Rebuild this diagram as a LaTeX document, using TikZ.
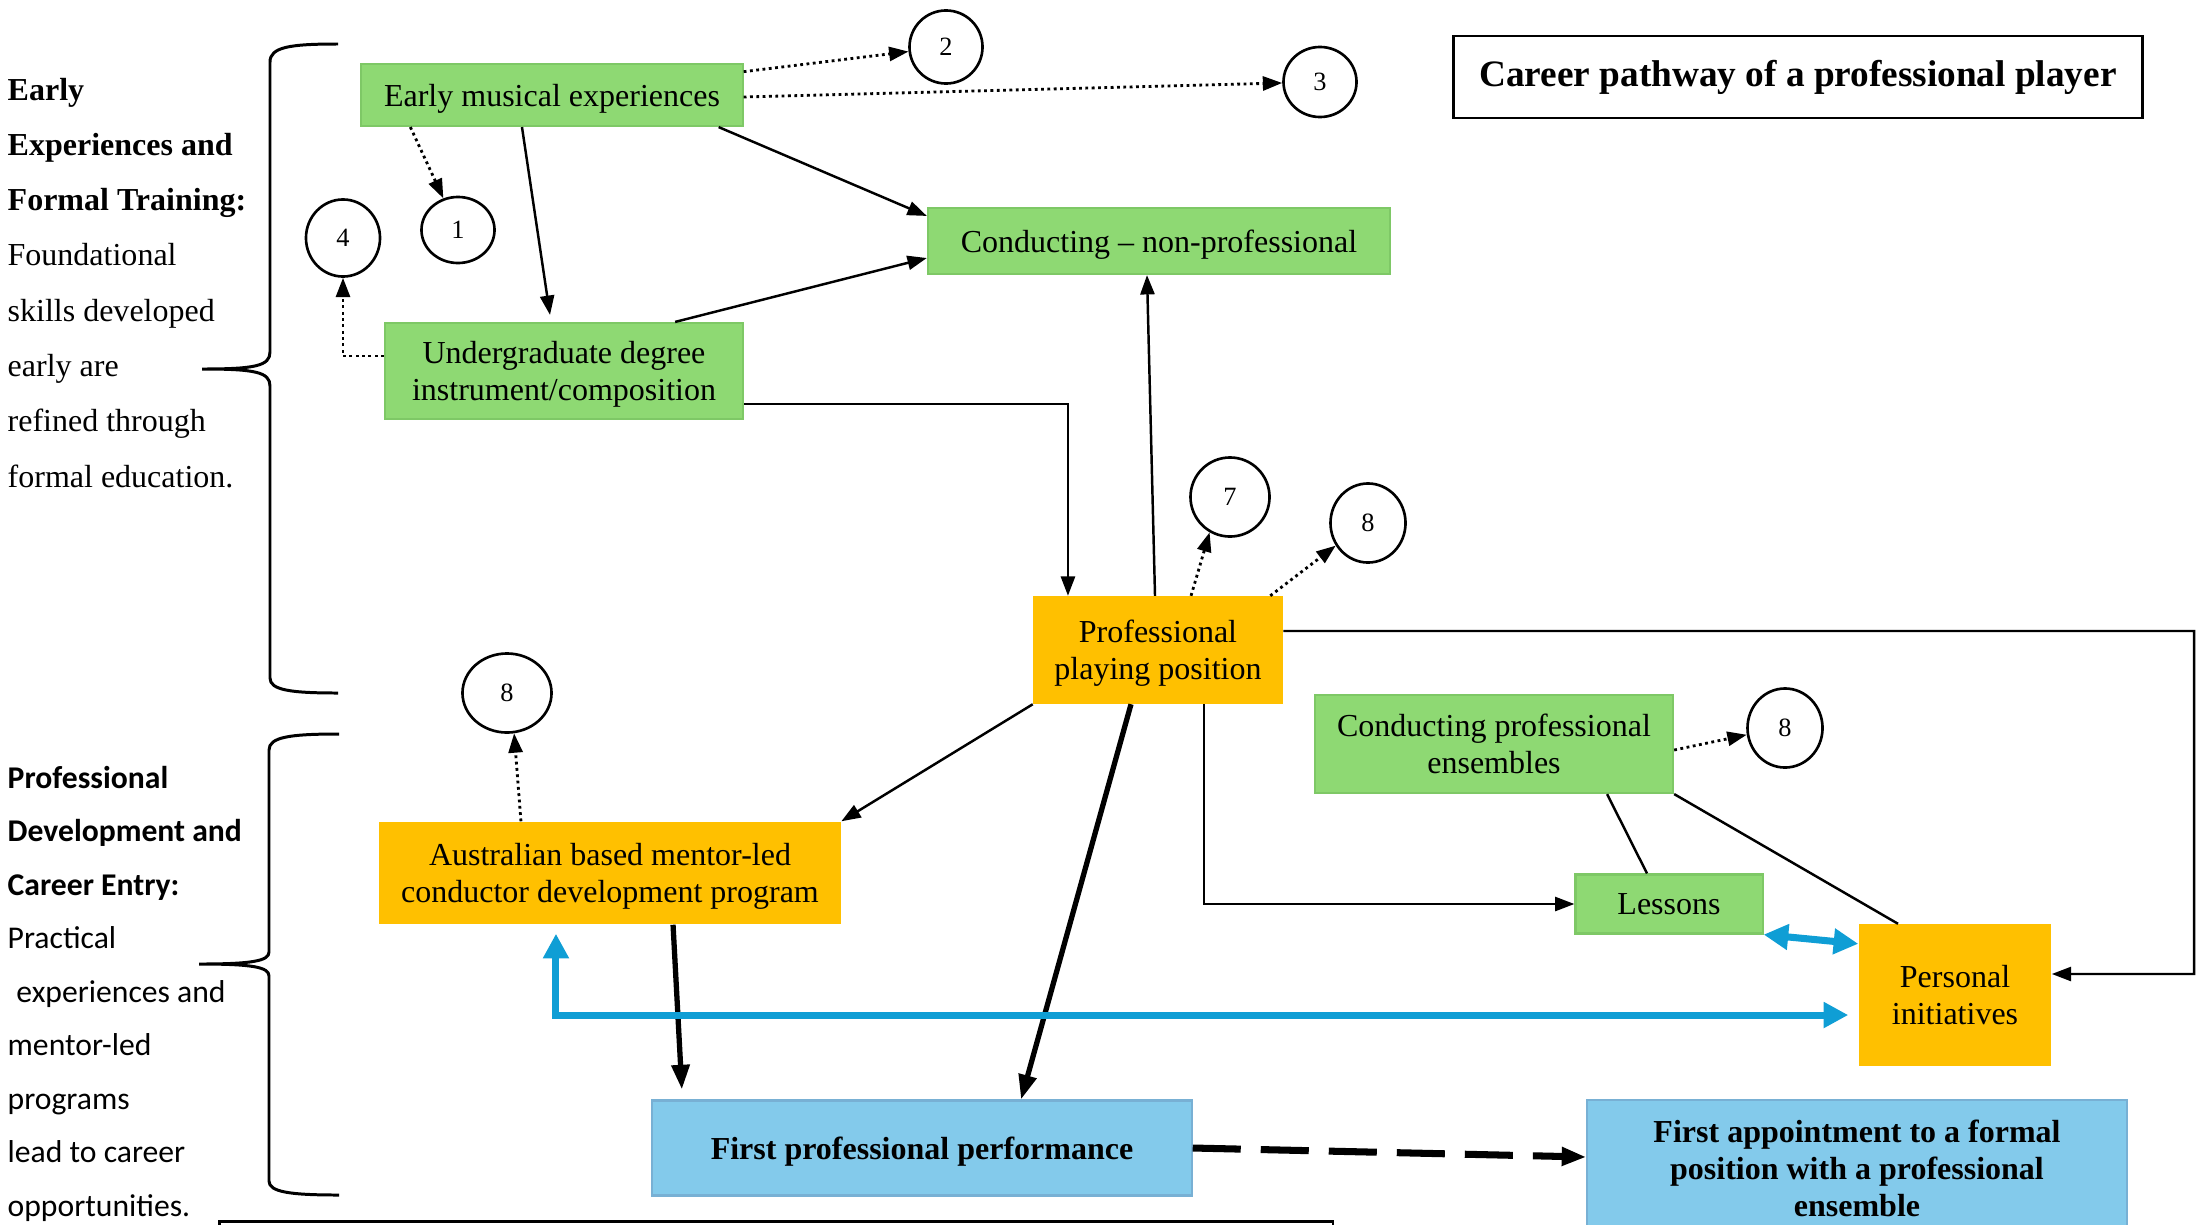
\documentclass[tikz,border=0pt]{standalone}
\usepackage{fontspec}
\setmainfont{Liberation Serif}
\newfontfamily\calibri{Carlito}
\usetikzlibrary{arrows.meta,shapes.geometric}

\definecolor{boxgreen}{RGB}{142,217,115}
\definecolor{boxgreenedge}{RGB}{126,200,102}
\definecolor{boxorange}{RGB}{255,192,0}
\definecolor{boxblue}{RGB}{131,202,235}
\definecolor{boxblueedge}{RGB}{120,176,212}
\definecolor{linkblue}{RGB}{15,158,213}

\newcommand{\boxfont}{\fontsize{9.1}{10.6}\selectfont}
\newcommand{\numfont}{\fontsize{7.5}{8}\selectfont}

\tikzset{
  stage/.style={align=center, inner sep=0pt, text depth=0pt, font=\boxfont},
  greenstage/.style={stage, fill=boxgreen, draw=boxgreenedge, line width=0.6pt},
  orangestage/.style={stage, fill=boxorange},
  bluestage/.style={stage, fill=boxblue, draw=boxblueedge, line width=0.6pt, font=\boxfont\bfseries},
  num/.style={ellipse, draw, line width=0.75pt, inner sep=0pt, minimum width=0.73cm, minimum height=0.73cm, font=\numfont},
  note/.style={->, densely dotted, line width=0.8pt},
  link/.style={->, line width=0.7pt},
  heavy/.style={-{Triangle[length=7pt,width=5pt]}, line width=1.5pt},
  bluelink/.style={{Triangle[length=7pt,width=7pt]}-{Triangle[length=7pt,width=7pt]}, draw=linkblue, line width=2pt},
  sidebrace/.style={line width=0.85pt},
  sidetext/.style={anchor=base west, inner sep=0pt, font=\fontsize{9.1}{11}\selectfont},
}

\begin{document}
\begin{tikzpicture}[x=0.01cm, y=-0.01cm, >={Triangle[length=5.5pt,width=4pt]}]
\useasboundingbox (0,0) rectangle (2201,1224);
\clip (0,0) rectangle (2201,1224);

\node[greenstage, minimum width=3.81cm, minimum height=0.62cm] (early) at (552,95) {Early musical experiences};
\node[greenstage, minimum width=4.62cm, minimum height=0.66cm] (amateur) at (1159,241) {Conducting -- non-professional};
\node[greenstage, minimum width=3.58cm, minimum height=0.96cm] (degree) at (564,371) {Undergraduate degree\\instrument/composition};
\node[orangestage, minimum width=2.49cm, minimum height=1.07cm] (playing) at (1158,650) {Professional\\playing position};
\node[greenstage, minimum width=3.58cm, minimum height=0.98cm] (ensembles) at (1494,744) {Conducting professional\\ensembles};
\node[greenstage, minimum width=1.87cm, minimum height=0.59cm] (lessons) at (1669,904) {Lessons};
\node[orangestage, minimum width=1.92cm, minimum height=1.41cm] (personal) at (1955,995) {Personal\\initiatives};
\node[orangestage, minimum width=4.61cm, minimum height=1.02cm] (mentor) at (610,873) {Australian based mentor-led\\conductor development program};
\node[bluestage, minimum width=5.39cm, minimum height=0.95cm] (debut) at (922,1148) {First professional performance};
\node[bluestage, minimum width=5.39cm, minimum height=1.36cm] (appoint) at (1857,1168) {First appointment to a formal\\position with a professional\\ensemble};
\node[draw, line width=0.8pt, minimum width=6.88cm, minimum height=0.82cm, font=\fontsize{10.6}{12}\selectfont\bfseries] (title) at (1798,77) {Career pathway of a professional player};
\node[draw, line width=0.8pt, anchor=north west, minimum width=11.13cm, minimum height=1cm] (caption) at (218,1220) {};

\node[num, minimum height=0.66cm] (n1) at (458,230) {1};
\node[num] (n2) at (946,47) {2};
\node[num, minimum height=0.70cm] (n3) at (1320,82) {3};
\node[num, minimum width=0.74cm, minimum height=0.77cm] (n4) at (343,238) {4};
\node[num, minimum size=0.79cm] (n7) at (1230,497) {7};
\node[num, minimum width=0.75cm, minimum height=0.79cm] (n8a) at (1368,523) {8};
\node[num, minimum width=0.75cm, minimum height=0.79cm] (n8b) at (1785,728) {8};
\node[num, minimum width=0.89cm, minimum height=0.79cm] (n8c) at (507,693) {8};

\coordinate (loop) at (2194,631);

\draw [note] (early) -- (n2);
\draw [note] ([yshift=-0.02cm]early.east) -- (n3);
\draw [note] ([xshift=0.5cm]early.south west) -- (n1);
\draw [link] ([xshift=-0.3cm]early.south) -- ([xshift=-0.14cm,yshift=0.07cm]degree.north);
\draw [link] ([xshift=-0.25cm]early.south east) -- ([yshift=-0.09cm]amateur.north west);
\draw [link] ([xshift=-0.69cm]degree.north east) -- ([yshift=-0.17cm]amateur.west);
\draw [note] ([yshift=0.15cm]degree.west) -| (n4);
\draw [link] ([yshift=-0.33cm]degree.east) -| ([xshift=-0.9cm]playing.north);
\draw [link] ([xshift=-0.03cm]playing.north) -- ([xshift=-0.12cm]amateur.south);
\draw [note] ([xshift=0.33cm]playing.north) -- (n7.240);
\draw [note] ([xshift=-0.13cm]playing.north east) -- (n8a.215);
\draw [link] ([yshift=0.19cm]playing.east) -- (loop) |- ([yshift=0.21cm]personal.east);
\draw [link] (playing.south west) -- (mentor.north east);
\draw [heavy] ([xshift=-0.27cm]playing.south) -- ([xshift=0.99cm]debut.north);
\draw [heavy] ([xshift=0.63cm]mentor.south) -- ([xshift=-2.4cm,yshift=0.1cm]debut.north);
\draw [link] ([xshift=0.46cm]playing.south) |- (lessons.west);
\draw [note] ([xshift=-0.89cm]mentor.north) -- (n8c.280);
\draw [note] ([yshift=-0.06cm]ensembles.east) -- (n8b.190);
\draw [line width=0.7pt] ([xshift=1.13cm]ensembles.south) -- ([xshift=-0.22cm]lessons.north);
\draw [line width=0.7pt] (ensembles.south east) -- ([xshift=-0.57cm]personal.north);
\draw [bluelink] (lessons.south east) -- ([yshift=-0.2cm]personal.north west);
\draw [bluelink] ([xshift=-0.54cm,yshift=-0.09cm]mentor.south) |- ([xshift=-0.1cm,yshift=-0.2cm]personal.west);
\draw [heavy, line width=2pt, dash pattern=on 0.48cm off 0.2cm] (debut.east) -- ([yshift=0.11cm]appoint.west);

\draw [sidebrace] (338,44) .. controls (290,44) and (270,47) .. (270,62) -- (270,352) .. controls (270,366) and (255,369) .. (202,369) .. controls (255,369) and (270,372) .. (270,386) -- (270,678) .. controls (270,690) and (290,693) .. (338,693);
\draw [sidebrace] (339,734) .. controls (290,734) and (269,737) .. (269,750) -- (269,952) .. controls (269,961) and (252,964) .. (199,964) .. controls (252,964) and (269,967) .. (269,976) -- (269,1181) .. controls (269,1192) and (290,1195) .. (339,1195);

\foreach \txt [count=\i from 0] in {{\textbf{Early}}, {\textbf{Experiences and}}, {\textbf{Formal Training:}}, Foundational, skills developed, early are, refined through, formal education.}
  \node[sidetext] (training\i) at (7,100+55.3*\i) {\txt};
\foreach \txt [count=\i from 0] in {{\textbf{Professional}}, {\textbf{Development and}}, {\textbf{Career Entry:}}, Practical, {\hspace{2.5pt}experiences and}, mentor-led, programs, lead to career, opportunities.}
  \node[sidetext, font=\calibri\fontsize{9}{11}\selectfont] (career\i) at (7,788+53.5*\i) {\txt};
\end{tikzpicture}
\end{document}
